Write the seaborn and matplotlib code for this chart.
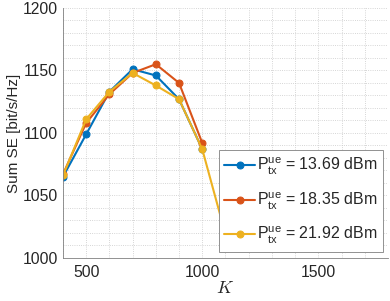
import pandas as pd
import seaborn as sns
import matplotlib.pyplot as plt
from matplotlib.ticker import MultipleLocator

k_low = [400, 500, 600, 700, 800, 900, 1000]
k_high = [400, 500, 600, 700, 800, 900, 1000, 1100]

se_1369 = [1065, 1099, 1133, 1151, 1146, 1127, 1087]
se_1835 = [1067, 1108, 1131, 1148, 1155, 1140, 1092]
se_2192 = [1066, 1111, 1133, 1148, 1138, 1127, 1087, 1019]

labels = [
    r"$\mathrm{P}^{\mathrm{ue}}_{\mathrm{tx}}$ = 13.69 dBm",
    r"$\mathrm{P}^{\mathrm{ue}}_{\mathrm{tx}}$ = 18.35 dBm",
    r"$\mathrm{P}^{\mathrm{ue}}_{\mathrm{tx}}$ = 21.92 dBm",
]
colors = ["#0072BD", "#D95319", "#EDB120"]

df = pd.concat([
    pd.DataFrame({"K": k_low, "SE": se_1369, "P": labels[0]}),
    pd.DataFrame({"K": k_low, "SE": se_1835, "P": labels[1]}),
    pd.DataFrame({"K": k_high, "SE": se_2192, "P": labels[2]}),
])

sns.set_style("white")
plt.rcParams["font.family"] = ["Liberation Sans", "DejaVu Sans"]
plt.rcParams["mathtext.fontset"] = "custom"
plt.rcParams["mathtext.rm"] = "Liberation Sans"
plt.rcParams["mathtext.it"] = "Liberation Sans:italic"

fig = plt.figure(figsize=(3.9, 3.01), dpi=100)
ax = fig.add_axes([0.1615, 0.1429, 0.8333, 0.8306])

for lab, col in zip(labels, colors):
    sns.lineplot(
        data=df[df["P"] == lab],
        x="K",
        y="SE",
        color=col,
        marker="o",
        markersize=5,
        markeredgecolor=col,
        linewidth=1.5,
        label=lab,
        ax=ax,
    )

ax.set_xlim(400, 1800)
ax.set_ylim(1000, 1200)
ax.set_xticks([500, 1000, 1500])
ax.set_yticks([1000, 1050, 1100, 1150, 1200])
ax.xaxis.set_minor_locator(MultipleLocator(100))
ax.yaxis.set_minor_locator(MultipleLocator(10))

ax.grid(True, which="both", linestyle=":", color="#c8c8c8", linewidth=0.6)
ax.tick_params(which="major", direction="in", length=3, width=0.6,
               color="#808080", labelsize=11.3, labelcolor="#262626")
ax.tick_params(axis="x", pad=5)
ax.tick_params(axis="y", pad=3.5)
ax.tick_params(which="minor", length=0)

for s in ["top", "right"]:
    ax.spines[s].set_visible(False)
for s in ["left", "bottom"]:
    ax.spines[s].set_color("#808080")
    ax.spines[s].set_linewidth(0.6)

ax.set_xlabel("$K$", fontsize=13, math_fontfamily="cm", color="#262626", labelpad=0)
ax.set_ylabel("Sum SE [bit/s/Hz]", fontsize=11, color="#262626", labelpad=1.5)

leg = ax.legend(
    loc="lower right",
    bbox_to_anchor=(0.985, 0.024),
    borderaxespad=0,
    fontsize=11.5,
    frameon=True,
    fancybox=False,
    framealpha=1,
    edgecolor="#808080",
    handlelength=1.9,
    handletextpad=0.15,
    labelspacing=0.85,
    borderpad=0.35,
)
leg.get_frame().set_linewidth(0.6)

plt.savefig("out.png", dpi=100)
